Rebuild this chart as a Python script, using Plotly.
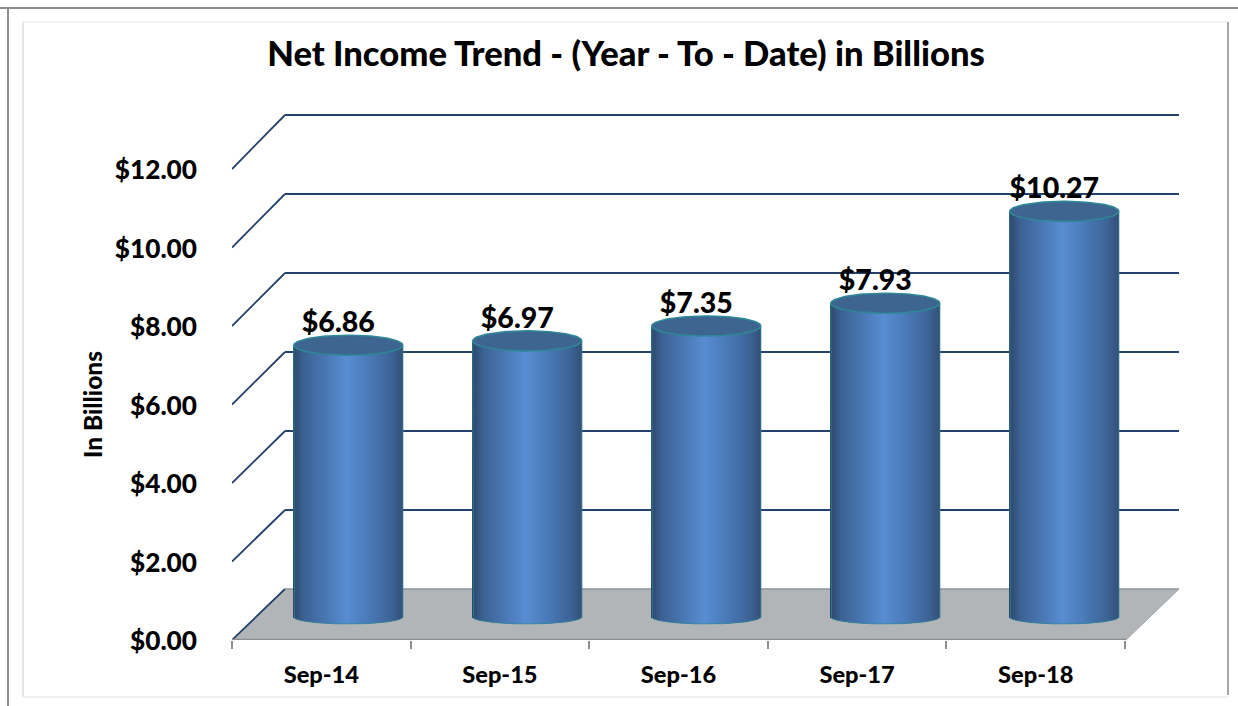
import numpy as np
import plotly.graph_objects as go

categories = ["Sep-14", "Sep-15", "Sep-16", "Sep-17", "Sep-18"]
values = [6.86, 6.97, 7.35, 7.93, 10.27]
value_labels = ["$6.86", "$6.97", "$7.35", "$7.93", "$10.27"]
y_ticks = [0, 2, 4, 6, 8, 10, 12]
y_tick_labels = ["$0.00", "$2.00", "$4.00", "$6.00", "$8.00", "$10.00", "$12.00"]
title_text = "Net Income Trend - (Year - To - Date) in Billions"
y_title = "In Billions"

W, H = 1238, 706
L, R, T, B = 232, 1179, 109, 640          # plot area in pixels
PX_PER_CAT = 178.6
PX_PER_UNIT = 39.25
FONT = "Lato"
WEIGHT = 900
x_rng = [-0.5, -0.5 + (R - L) / PX_PER_CAT]
y_rng = [0, (B - T) / PX_PER_UNIT]

DX = 53 / PX_PER_CAT          # depth of the 3-D box in axis units
DY = 51 / PX_PER_UNIT
BACK_SCALE = 39.5 / PX_PER_UNIT
BAR_DX = 27 / PX_PER_CAT      # bar centre offset from category centre
BAR_STEP = 179 / PX_PER_CAT
TOP_DY = 0.65                 # bar top offset caused by depth
BASE_DY = 23 / PX_PER_UNIT    # bar base (at its side edge)
HALF_W = 54.5 / PX_PER_CAT
TOP_RY = 10 / PX_PER_UNIT
BOT_RY = 7 / PX_PER_UNIT
N = 110

stops_t = [-1.0, -0.8, -0.4, -0.02, 0.4, 0.8, 1.0]
stops_rgb = np.array([
    [44, 70, 104], [60, 98, 148], [74, 120, 180], [88, 142, 212],
    [74, 122, 184], [62, 100, 152], [52, 82, 122]], float)


def strip_color(t):
    return "rgb(%d,%d,%d)" % tuple(np.interp(t, stops_t, stops_rgb[:, k]) for k in range(3))


def fx(px):
    return (px - L) / (R - L)


def fy(px):
    return (B - px) / (B - T)


shapes = []
for (x0, y0, x1, y1, c, w) in [
    (0, 8, W, 8, "#8c8c8c", 2), (8, 8, 8, H, "#8c8c8c", 2),
    (23, 22, 1228, 22, "#f4f4f4", 2), (23, 22, 23, 697, "#e6e6e6", 2),
    (1228, 22, 1228, 695, "#a6a6a6", 2), (23, 697, 1228, 697, "#f0f0f0", 2),
]:
    shapes.append(dict(type="line", xref="paper", yref="paper", x0=fx(x0), y0=fy(y0),
                       x1=fx(x1), y1=fy(y1), line=dict(color=c, width=w), layer="below"))

GRID = "#24426a"
x_front, x_back = x_rng[0], x_rng[0] + DX
x_front_r, x_back_r = x_rng[1] - DX, x_rng[1]


def back_y(v):
    return DY + v * BACK_SCALE


# floor
shapes.append(dict(type="path", xref="x", yref="y",
                   path=f"M {x_front} 0 L {x_back} {DY} L {x_back_r} {DY} L {x_front_r} 0 Z",
                   fillcolor="#b1b5b8", line=dict(width=0), layer="below"))
for v in y_ticks:
    shapes.append(dict(type="line", xref="x", yref="y", x0=x_front, y0=v, x1=x_back, y1=back_y(v),
                       line=dict(color=GRID, width=1.8), layer="below"))
    if v > 0:
        shapes.append(dict(type="line", xref="x", yref="y", x0=x_back, y0=back_y(v), x1=x_back_r, y1=back_y(v),
                           line=dict(color=GRID, width=2.2), layer="below"))
shapes.append(dict(type="line", xref="x", yref="y", x0=x_back, y0=DY, x1=x_back_r, y1=DY,
                   line=dict(color="#8f9396", width=1.5), layer="below"))
shapes.append(dict(type="line", xref="x", yref="y", x0=x_back_r, y0=DY, x1=x_front_r, y1=0,
                   line=dict(color="#a4a8ab", width=1), layer="below"))

fig = go.Figure()


def bar_cx(i):
    return i * BAR_STEP + BAR_DX


# cylinder bodies as narrow gradient strips
ts = (np.arange(N) + 0.5) / N * 2 - 1
sx_, sy_, sb_, sc_ = [], [], [], []
for i, v in enumerate(values):
    for t in ts:
        sx_.append(bar_cx(i) + t * HALF_W)
        base = BASE_DY - BOT_RY * np.sqrt(1 - t * t)
        sb_.append(base)
        sy_.append(v + TOP_DY - base)
        sc_.append(strip_color(t))
fig.add_trace(go.Bar(x=sx_, y=sy_, base=sb_, width=2 * HALF_W / N * 1.6,
                     marker=dict(color=sc_, line=dict(width=0)),
                     hoverinfo="skip", showlegend=False))

theta = np.linspace(0, 2 * np.pi, 120)
half = np.linspace(np.pi, 2 * np.pi, 60)
for i, v in enumerate(values):
    cx = bar_cx(i)
    top = v + TOP_DY
    ox = [cx - HALF_W] + list(cx + HALF_W * np.cos(half)) + [cx + HALF_W]
    oy = [top] + list(BASE_DY + BOT_RY * np.sin(half)) + [top]
    fig.add_trace(go.Scatter(x=ox, y=oy, mode="lines", line=dict(color="rgba(47,135,150,0.75)", width=1),
                             hoverinfo="skip", showlegend=False))
    fig.add_trace(go.Scatter(x=cx + HALF_W * np.cos(theta), y=top + TOP_RY * np.sin(theta),
                             mode="lines", fill="toself", fillcolor="#3d6590",
                             line=dict(color="#2f8796", width=1.6),
                             hoverinfo="skip", showlegend=False))

# value labels
fig.add_trace(go.Scatter(
    x=[bar_cx(i) - 10 / PX_PER_CAT for i in range(len(values))],
    y=[v + TOP_DY + 20.5 / PX_PER_UNIT for v in values],
    text=value_labels, mode="text", textposition="middle center",
    textfont=dict(family=FONT, size=28.5, color="#000000", weight=WEIGHT),
    hoverinfo="skip", showlegend=False))

# x axis line
fig.add_trace(go.Scatter(x=[x_rng[0], x_front_r], y=[0, 0], mode="lines", cliponaxis=False,
                         line=dict(color="#8a8e91", width=2.5), hoverinfo="skip", showlegend=False))

fig.update_layout(
    width=W, height=H, autosize=False,
    margin=dict(l=L, r=W - R, t=T, b=H - B),
    paper_bgcolor="white", plot_bgcolor="rgba(0,0,0,0)",
    barmode="overlay", shapes=shapes, showlegend=False,
    title=dict(text=title_text, x=626 / W, xanchor="center", y=1 - 54 / H, yanchor="middle",
               font=dict(family=FONT, size=34.6, color="#000000", weight=WEIGHT)),
    xaxis=dict(range=x_rng, tickvals=list(range(len(categories))), ticktext=categories,
               showgrid=False, zeroline=False, showline=False, ticks="",
               ticklabelstandoff=18,
               minor=dict(tickvals=[k - 0.5 for k in range(len(categories) + 1)], ticks="outside",
                          ticklen=8, tickwidth=1.5, tickcolor="#8c9093", showgrid=False),
               tickfont=dict(family=FONT, size=23.6, color="#000000", weight=WEIGHT)),
    yaxis=dict(range=y_rng, tickvals=y_ticks, ticktext=y_tick_labels,
               showgrid=False, zeroline=False, showline=False, ticks="",
               ticklabelstandoff=34, ticklabelshift=1,
               tickfont=dict(family=FONT, size=26.2, color="#000000", weight=WEIGHT)),
    annotations=[dict(text=y_title, xref="paper", yref="paper", x=fx(92), y=fy(405), textangle=-90,
                      showarrow=False, xanchor="center", yanchor="middle",
                      font=dict(family=FONT, size=24.5, color="#000000", weight=WEIGHT))],
)

fig.write_html("out.html", post_script="document.body.style.margin='0';",
               config=dict(displayModeBar=False))
